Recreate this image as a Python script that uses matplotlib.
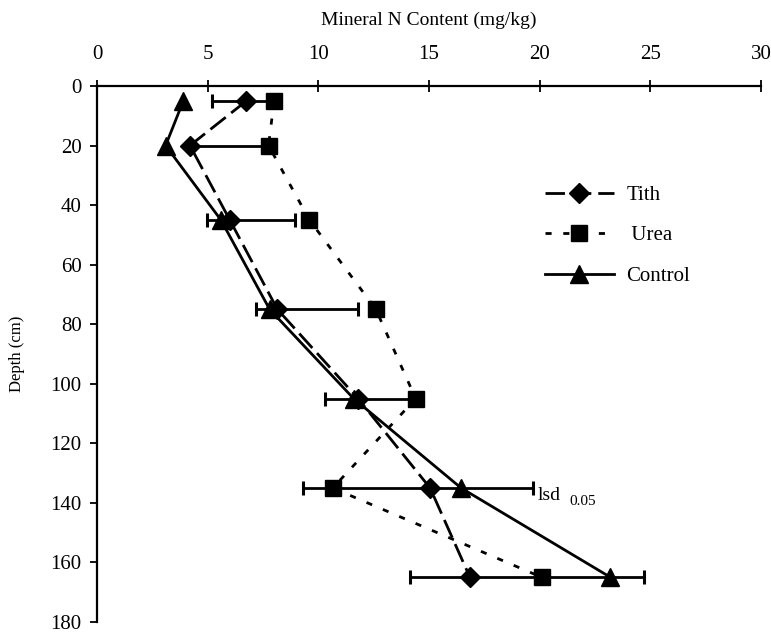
import matplotlib
matplotlib.use("Agg")
import matplotlib.pyplot as plt

# depth (cm) and mineral N (mg/kg)
depth = [5, 20, 45, 75, 105, 135, 165]
tith = [6.75, 4.2, 6.0, 8.15, 11.8, 15.05, 16.85]
urea = [8.0, 7.75, 9.6, 12.6, 14.4, 10.65, 20.1]
control = [3.9, 3.1, 5.6, 7.8, 11.6, 16.45, 23.2]

# lsd(0.05) bar extents at each depth
lsd_left = [5.2, 4.2, 4.95, 7.2, 10.3, 9.3, 14.15]
lsd_right = [8.0, 7.75, 8.95, 11.8, 14.4, 19.7, 24.7]

plt.rcParams['font.family'] = ['Liberation Serif', 'DejaVu Serif']

fig = plt.figure(figsize=(7.71, 6.33), dpi=100)
ax = fig.add_axes([97 / 771, 1 - 622 / 633, 664 / 771, 536 / 633])

# lsd bars
for d, lo, hi in zip(depth, lsd_left, lsd_right):
    ax.errorbar((lo + hi) / 2, d, xerr=(hi - lo) / 2, fmt='none', ecolor='black',
                elinewidth=2, capsize=5, capthick=2.2, zorder=2)

ax.plot(tith, depth, color='black', lw=2, ls=(0, (7, 2.5)), marker='D', ms=10,
        label='Tith', zorder=3)
ax.plot(urea, depth, color='black', lw=2, ls=(0, (2.2, 4.2)), marker='s', ms=11,
        label=' Urea', zorder=3)
ax.plot(control, depth, color='black', lw=2, ls='-', marker='^', ms=13,
        label='Control', zorder=3)

ax.text(lsd_right[5] + 0.2, depth[5] + 2.5, 'lsd', fontsize=14, va='center', ha='left')
ax.text(lsd_right[5] + 1.65, depth[5] + 4.5, '0.05', fontsize=11, va='center', ha='left')

ax.set_xlim(0, 30)
ax.set_ylim(180, 0)
ax.set_xticks(range(0, 31, 5))
ax.set_yticks(range(0, 181, 20))
ax.xaxis.tick_top()
ax.xaxis.set_label_position('top')
ax.set_xlabel('Mineral N Content (mg/kg)', fontsize=14, labelpad=14)
ax.set_ylabel('Depth (cm)', fontsize=12, labelpad=18)
ax.tick_params(axis='x', direction='inout', length=8, width=1.3, labelsize=15, pad=12)
ax.tick_params(axis='y', direction='out', length=5, width=1.3, labelsize=15, pad=6)
for side in ['right', 'bottom']:
    ax.spines[side].set_visible(False)
for side in ['left', 'top']:
    ax.spines[side].set_linewidth(1.6)

ax.legend(loc='upper left', bbox_to_anchor=(0.662, 0.83), frameon=False, fontsize=15,
          handlelength=3.3, labelspacing=1.0, handletextpad=0.6, borderaxespad=0)

fig.savefig('out.png', dpi=100)
